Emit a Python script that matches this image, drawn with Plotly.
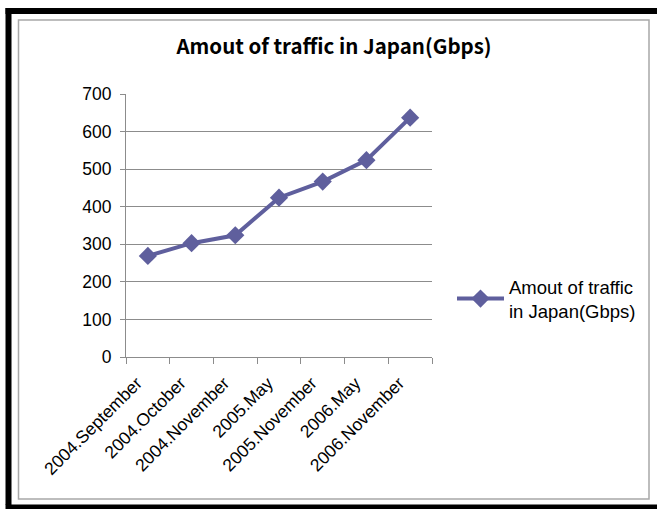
import plotly.graph_objects as go

# Monthly traffic figures (Gbps)
periods = ["2004.September", "2004.October", "2004.November", "2005.May",
           "2005.November", "2006.May", "2006.November"]
traffic = [269, 303, 324, 424, 467, 524, 637]
y_ticks = [0, 100, 200, 300, 400, 500, 600, 700]

W, H = 657, 509
PL, PR, PT, PB = 126, 432, 94, 357  # plot area edges in pixels

LINE = "#5F5F9D"
GRID = "#8C8C8C"


def px_x(px):
    return (px - PL) / (PR - PL)


def px_y(py):
    return (PB - py) / (PB - PT)


fig = go.Figure()
fig.add_trace(go.Scatter(
    x=periods, y=traffic, mode="lines+markers",
    name="Amout of traffic<br>in Japan(Gbps)",
    line=dict(color=LINE, width=4),
    marker=dict(symbol="diamond", size=14, color=LINE),
))

shapes = [
    # outer gray chart frame
    dict(type="rect", xref="paper", yref="paper",
         x0=px_x(18.5), x1=px_x(649), y0=px_y(499), y1=px_y(20),
         line=dict(color="#A8A8A8", width=1.5), layer="below"),
    # heavy black edges
    dict(type="rect", xref="paper", yref="paper",
         x0=px_x(5.5), x1=px_x(11.5), y0=px_y(505), y1=px_y(8),
         line=dict(width=0), fillcolor="black"),
    dict(type="rect", xref="paper", yref="paper",
         x0=px_x(5.5), x1=px_x(657), y0=px_y(14), y1=px_y(8),
         line=dict(width=0), fillcolor="black"),
    dict(type="rect", xref="paper", yref="paper",
         x0=px_x(5.5), x1=px_x(657), y0=px_y(509), y1=px_y(504.5),
         line=dict(width=0), fillcolor="black"),
]

fig.update_layout(
    width=W, height=H,
    margin=dict(l=PL, r=W - PR, t=PT, b=H - PB),
    paper_bgcolor="white", plot_bgcolor="white",
    shapes=shapes,
    title=dict(text="<b>Amout of traffic in Japan(Gbps)</b>",
               xref="container", yref="container",
               x=334 / W, xanchor="center", y=1 - 47 / H, yanchor="middle",
               font=dict(family="Noto Sans CJK JP", size=20.5, color="black")),
    font=dict(family="Liberation Sans, Arial", size=17.5, color="black"),
    showlegend=True,
    legend=dict(xref="container", yref="container",
                x=452 / W, xanchor="left", y=1 - 299 / H, yanchor="middle",
                itemwidth=47, font=dict(size=18.5),
                bgcolor="rgba(0,0,0,0)"),
    xaxis=dict(type="category", tickson="boundaries", ticks="outside",
               ticklen=6, tickcolor=GRID, showline=True, linecolor=GRID,
               linewidth=1, showgrid=False, tickangle=-45,
               ticklabelstandoff=8, ticklabelshift=-11,
               range=[-0.5, len(periods) - 0.5], fixedrange=True),
    yaxis=dict(range=[0, 700], tickvals=y_ticks, ticks="outside",
               ticklen=5, tickcolor=GRID, showline=True, linecolor=GRID,
               linewidth=1, showgrid=True, gridcolor=GRID, gridwidth=1,
               ticklabelstandoff=5,
               zeroline=False, fixedrange=True),
)

fig.write_html("out.html")
